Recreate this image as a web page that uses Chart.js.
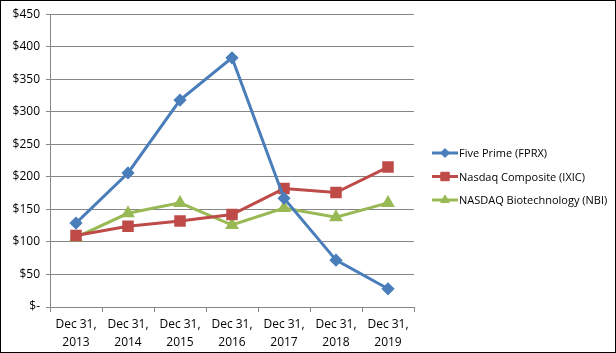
<!DOCTYPE html>
<html>
<head>
<meta charset="utf-8">
<script src="https://cdn.jsdelivr.net/npm/chart.js@4"></script>
<style>
  html, body { margin: 0; padding: 0; background: #fff; }
  #wrap { position: relative; width: 616px; height: 353px; box-sizing: border-box; border: 1px solid #000; }
</style>
</head>
<body>
<div id="wrap"><canvas id="grafico" width="614" height="351"></canvas></div>
<script>
// Dados do gráfico
const anos = [['Dec 31,', '2013'], ['Dec 31,', '2014'], ['Dec 31,', '2015'], ['Dec 31,', '2016'], ['Dec 31,', '2017'], ['Dec 31,', '2018'], ['Dec 31,', '2019']];
const fiveprime = [129, 206, 318, 383, 167, 72, 28];
const nasdaq = [110, 124, 132, 142, 182, 176, 215];
const biotech = [107, 144, 160, 126, 152, 138, 160];
const nomes = ['Five Prime (FPRX)', 'Nasdaq Composite (IXIC)', 'NASDAQ Biotechnology (NBI)'];

const fonte = "'Open Sans', 'Liberation Sans', sans-serif";

// Legenda no estilo do Excel (linha com marcador no meio)
const legendaExcel = {
    id: 'legendaExcel',
    afterDraw(chart) {
        const ctx = chart.ctx;
        const x0 = 431, y0 = 152, passo = 23.5;
        chart.data.datasets.forEach(function(ds, i) {
            const y = y0 + i * passo;
            ctx.save();
            ctx.strokeStyle = ds.borderColor;
            ctx.lineWidth = 3;
            ctx.beginPath();
            ctx.moveTo(x0, y);
            ctx.lineTo(x0 + 26, y);
            ctx.stroke();
            ctx.fillStyle = ds.pointBackgroundColor;
            ctx.strokeStyle = ds.pointBorderColor;
            ctx.lineWidth = 1;
            Chart.helpers.drawPoint(ctx, { pointStyle: ds.pointStyle, radius: ds.pointRadius, rotation: 0, borderWidth: 1 }, x0 + 13, y);
            ctx.fillStyle = '#000';
            ctx.font = '11px ' + fonte;
            ctx.textBaseline = 'middle';
            ctx.fillText(ds.label, x0 + 27, y + 1);
            ctx.restore();
        });
    }
};

const ctx = document.getElementById('grafico').getContext('2d');
const meuGrafico = new Chart(ctx, {
    type: 'line',
    data: {
        labels: anos,
        datasets: [{
            label: nomes[0],
            data: fiveprime,
            borderColor: '#4A7EBB',
            backgroundColor: '#4A7EBB',
            pointBackgroundColor: '#4A7EBB',
            pointBorderColor: '#4A7EBB',
            pointStyle: 'rectRot',
            pointRadius: 4.5,
            borderWidth: 3
        }, {
            label: nomes[1],
            data: nasdaq,
            borderColor: '#BE4B48',
            backgroundColor: '#BE4B48',
            pointBackgroundColor: '#BE4B48',
            pointBorderColor: '#BE4B48',
            pointStyle: 'rect',
            pointRadius: 6,
            borderWidth: 3
        }, {
            label: nomes[2],
            data: biotech,
            borderColor: '#98B954',
            backgroundColor: '#98B954',
            pointBackgroundColor: '#98B954',
            pointBorderColor: '#98B954',
            pointStyle: 'triangle',
            pointRadius: 5,
            borderWidth: 3
        }]
    },
    options: {
        responsive: false,
        animation: false,
        layout: { padding: { top: 8, right: 201, left: 2, bottom: 0 } },
        plugins: {
            legend: { display: false },
            tooltip: { enabled: false }
        },
        scales: {
            x: {
                offset: true,
                grid: { offset: true, drawOnChartArea: false, tickLength: 5, color: '#868686' },
                border: { color: '#868686', width: 1 },
                ticks: { color: '#000', font: { family: fonte, size: 12, lineHeight: 1.55 }, maxRotation: 0, padding: 3 },
                afterFit(scale) { scale.height = 45; }
            },
            y: {
                min: 0,
                max: 450,
                ticks: {
                    stepSize: 50,
                    color: '#000',
                    font: { family: fonte, size: 12 },
                    padding: 6,
                    callback: function(v) { return v === 0 ? '$-' : '$' + v; }
                },
                grid: { color: '#868686', tickLength: 4 },
                border: { color: '#868686', width: 1 },
                afterFit(scale) { scale.width = 47; }
            }
        }
    },
    plugins: [legendaExcel]
});
</script>
</body>
</html>
